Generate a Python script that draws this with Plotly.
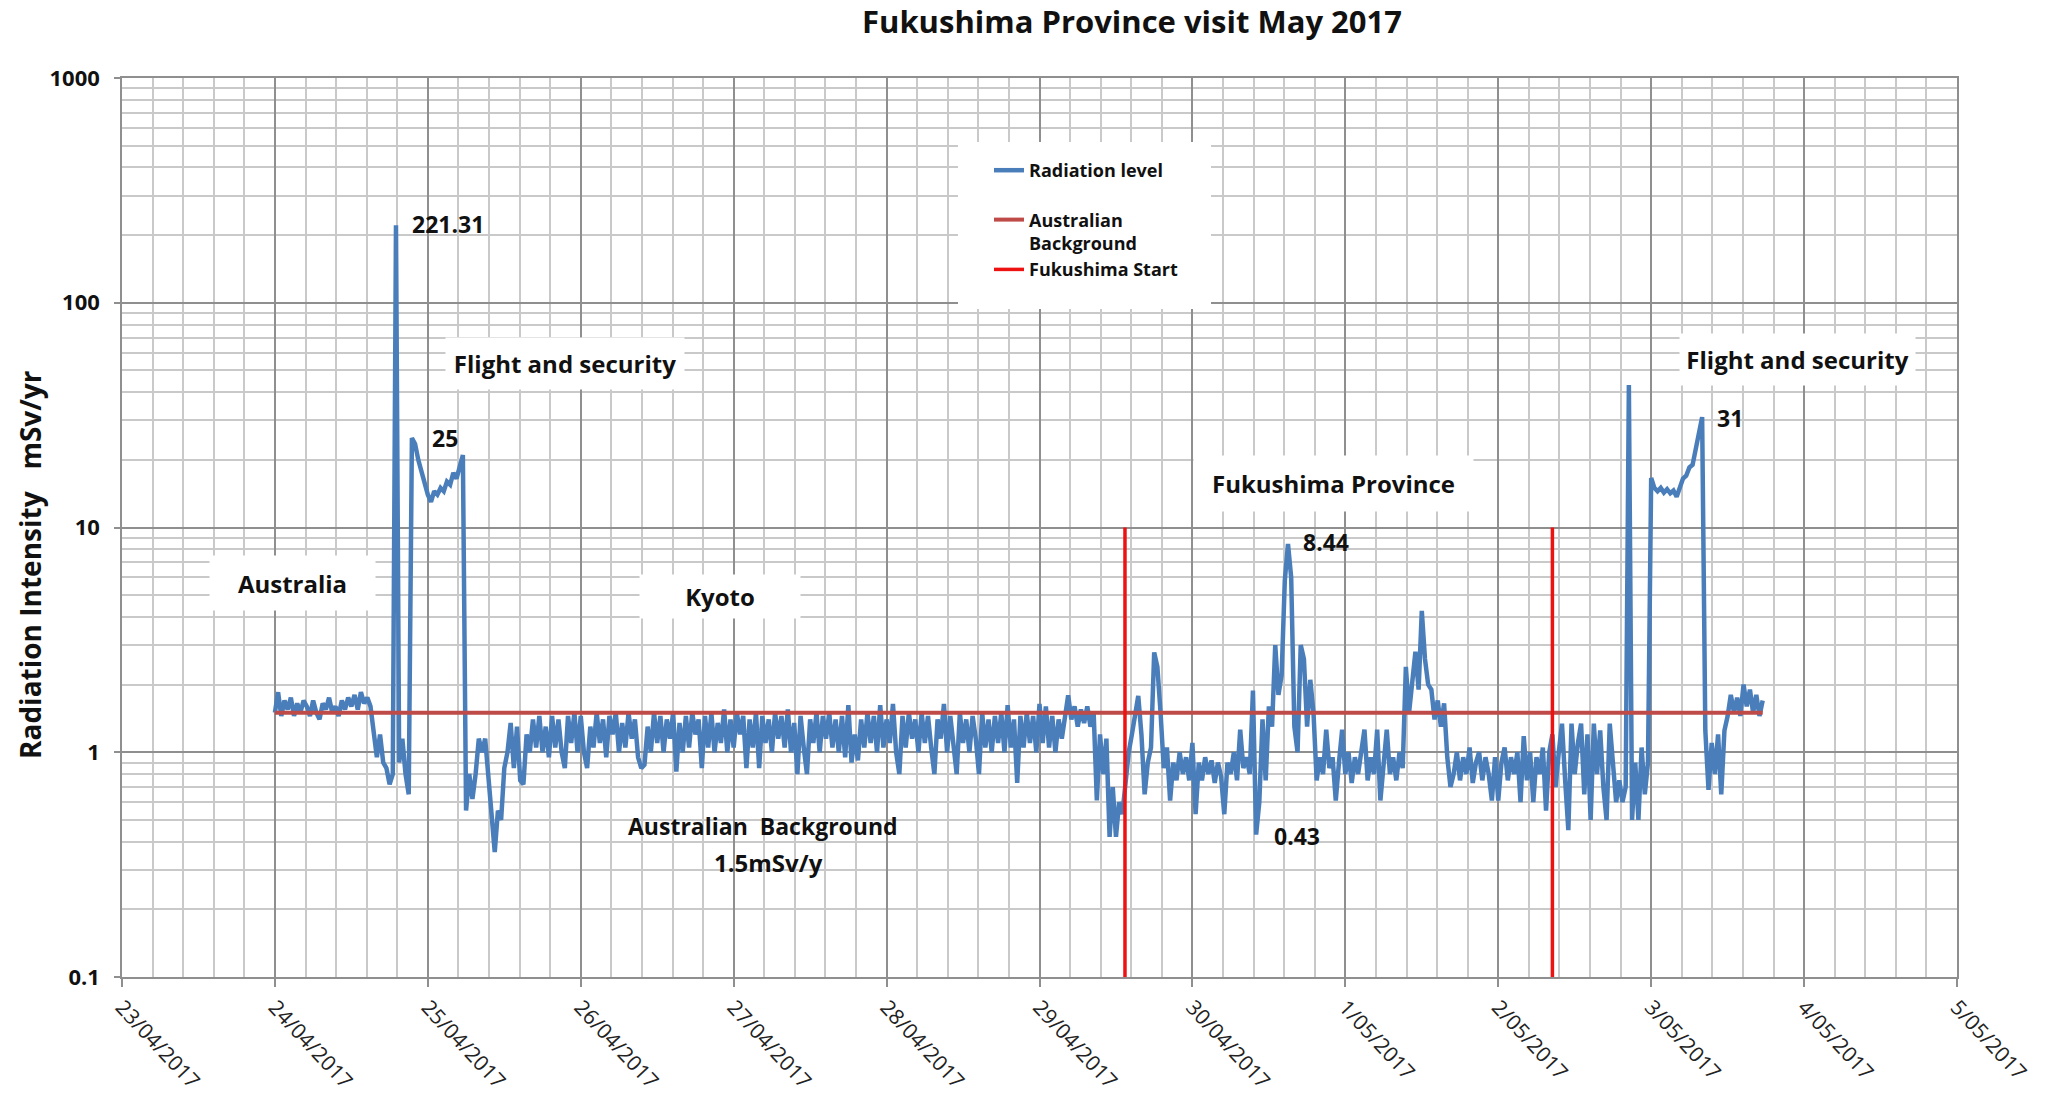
import math
import pandas as pd
import plotly.graph_objects as go

# ---------------------------------------------------------------------------
# Data: dose-rate readings (mSv/yr), one value every 30 minutes from 24/04 00:00
# ---------------------------------------------------------------------------
START = "2017-04-24 00:00"
STEP = "30min"

day_24apr = [
    1.5, 1.85, 1.45, 1.7, 1.55, 1.75, 1.45, 1.65, 1.5, 1.7, 1.6, 1.45,
    1.7, 1.5, 1.4, 1.65, 1.55, 1.75, 1.5, 1.6, 1.45, 1.7, 1.55, 1.75,
    1.6, 1.8, 1.55, 1.85, 1.65, 1.75, 1.6, 1.25, 0.95, 1.2, 0.9, 0.85,
    0.72, 0.8, 221.31, 0.9, 1.15, 0.8, 0.65, 25.0, 23.5, 20.0, 17.5, 15.5,
]
day_25apr = [
    14.0, 13.0, 14.5, 14.0, 15.0, 14.5, 16.0, 15.5, 17.5, 16.5, 19.0, 21.0,
    0.55, 0.8, 0.62, 0.8, 1.15, 1.0, 1.15, 0.75, 0.5, 0.36, 0.55, 0.5,
    0.85, 1.0, 1.35, 0.85, 1.3, 0.75, 0.72, 1.2, 1.0, 1.4, 1.05, 1.45,
    1.0, 1.3, 0.95, 1.45, 1.05, 1.4, 1.0, 0.85, 1.45, 1.1, 1.5, 1.0,
]
day_26apr = [
    1.45, 1.0, 0.85, 1.3, 1.05, 1.5, 1.1, 1.4, 0.95, 1.45, 1.2, 1.5,
    1.0, 1.35, 1.05, 1.5, 1.15, 1.4, 0.95, 0.85, 0.88, 1.3, 1.0, 1.5,
    1.1, 1.45, 1.0, 1.4, 1.15, 1.5, 0.82, 1.35, 1.0, 1.45, 1.05, 1.5,
    1.2, 1.4, 0.85, 1.45, 1.05, 1.5, 1.0, 1.35, 1.1, 1.55, 1.0, 1.4,
]
day_27apr = [
    1.05, 1.5, 1.2, 1.45, 0.85, 1.4, 1.05, 1.5, 0.85, 1.45, 1.1, 1.4,
    1.0, 1.5, 1.15, 1.45, 1.05, 1.55, 1.0, 1.35, 0.8, 1.45, 1.05, 0.8,
    1.4, 1.1, 1.5, 1.0, 1.45, 1.15, 1.5, 1.05, 1.4, 1.0, 1.45, 0.95,
    1.62, 0.9, 1.2, 0.92, 1.4, 1.05, 1.5, 1.1, 1.45, 1.0, 1.62, 1.05,
]
day_28apr = [
    1.4, 1.1, 1.64, 1.0, 0.8, 1.45, 1.05, 1.5, 1.15, 1.4, 1.0, 1.5,
    1.1, 1.45, 1.05, 0.8, 1.4, 1.15, 1.64, 1.0, 1.45, 1.05, 0.8, 1.5,
    1.1, 1.4, 1.0, 1.45, 1.15, 0.8, 1.5, 1.05, 1.4, 1.0, 1.45, 1.1,
    1.5, 1.0, 1.62, 1.05, 1.4, 0.73, 1.45, 1.05, 1.5, 1.1, 1.45, 1.0,
]
day_29apr = [
    1.64, 1.1, 1.6, 1.05, 1.45, 1.0, 1.4, 1.15, 1.5, 1.79, 1.4, 1.6,
    1.3, 1.55, 1.35, 1.6, 1.3, 1.5, 0.61, 1.2, 0.8, 1.15, 0.42, 0.7,
    0.42, 0.6, 0.53, 0.75, 1.0, 1.2, 1.5, 1.78, 1.2, 0.65, 0.9, 1.05,
    2.78, 2.4, 1.5, 0.85, 1.05, 0.61, 0.9, 0.75, 1.0, 0.8, 0.95, 0.75,
]
day_30apr = [
    1.1, 0.53, 0.9, 0.75, 0.95, 0.8, 0.92, 0.73, 0.9, 0.78, 0.53, 0.9,
    0.8, 1.0, 0.75, 1.26, 0.85, 0.95, 0.8, 1.88, 0.43, 0.6, 1.4, 0.75,
    1.6, 1.3, 3.0, 1.8, 2.2, 5.8, 8.44, 6.0, 1.3, 1.0, 3.0, 2.6,
    1.3, 2.1, 1.5, 0.75, 0.95, 0.8, 1.26, 0.85, 0.95, 0.61, 0.9, 1.26,
]
day_1may = [
    0.8, 1.0, 0.73, 0.95, 0.8, 1.0, 1.26, 0.75, 0.95, 0.8, 1.26, 0.61,
    0.9, 1.26, 0.8, 0.95, 0.75, 1.0, 0.85, 2.4, 1.5, 2.1, 2.8, 1.9,
    4.26, 2.6, 2.0, 1.9, 1.4, 1.7, 1.3, 1.65, 0.95, 0.7, 0.8, 1.0,
    0.75, 0.95, 0.8, 1.05, 0.73, 0.9, 1.0, 0.75, 0.95, 0.8, 0.61, 0.95,
]
day_2may = [
    0.61, 0.9, 1.05, 0.75, 0.95, 0.8, 1.0, 0.6, 1.18, 0.75, 1.0, 0.6,
    0.95, 0.8, 1.05, 0.55, 1.0, 1.2, 0.7, 1.0, 1.34, 0.75, 0.45, 1.34,
    0.8, 1.1, 1.34, 0.65, 1.2, 0.5, 1.34, 0.8, 1.25, 0.7, 0.5, 1.34,
    0.85, 0.6, 0.75, 0.6, 0.7, 43.0, 0.5, 0.9, 0.5, 1.05, 0.65, 0.9,
]
day_3may = [
    16.6, 15.0, 14.5, 15.0, 14.3, 14.8, 14.2, 14.6, 13.7, 15.0, 16.5, 17.0,
    18.5, 19.0, 22.6, 27.0, 31.0, 1.25, 0.68, 1.1, 0.8, 1.2, 0.65, 1.25,
    1.45, 1.8, 1.5, 1.75, 1.45, 2.0, 1.6, 1.9, 1.5, 1.8, 1.45, 1.7,
]

radiation = (day_24apr + day_25apr + day_26apr + day_27apr + day_28apr
             + day_29apr + day_30apr + day_1may + day_2may + day_3may)
times = pd.date_range(START, periods=len(radiation), freq=STEP)

# Reference level and the two "Fukushima Start" markers
BACKGROUND = 1.5
fukushima_start = [pd.Timestamp("2017-04-29 13:25"), pd.Timestamp("2017-05-02 08:30")]
start_line_span = [0.1, 10]

# Readings that carry a text callout next to them
callout_values = [221.31, 25.0, 8.44, 0.43, 31.0]

# Axis ticks
day_ticks = pd.date_range("2017-04-23", "2017-05-05", freq="D")
day_labels = ["23/04/2017", "24/04/2017", "25/04/2017", "26/04/2017", "27/04/2017",
              "28/04/2017", "29/04/2017", "30/04/2017", "1/05/2017", "2/05/2017",
              "3/05/2017", "4/05/2017", "5/05/2017"]
y_ticks = [0.1, 1, 10, 100, 1000]
y_labels = ["0.1", "1", "10", "100", "1000"]

# ---------------------------------------------------------------------------
# Layout constants (pixels)
# ---------------------------------------------------------------------------
W, H = 2064, 1101
PLOT_L, PLOT_T, PLOT_W, PLOT_H = 122, 78, 1835, 899
FONT = "Open Sans"
TEXT = "#111111"
MAJOR_GRID = "#8f8f8f"
MINOR_GRID = "#c9c9c9"
BLUE = "#4A7EBB"
BROWN = "#BE4B48"
RED = "#EE1111"


def paper_x(px):
    return (px - PLOT_L) / PLOT_W


def paper_y(py):
    return (PLOT_T + PLOT_H - py) / PLOT_H


fig = go.Figure()

fig.add_trace(go.Scatter(
    x=times, y=radiation, mode="lines", name="Radiation level",
    line=dict(color=BLUE, width=4.5), legendgroup="level",
))
fig.add_trace(go.Scatter(
    x=[times[0], times[-1]], y=[BACKGROUND, BACKGROUND], mode="lines",
    name="Australian<br>Background", line=dict(color=BROWN, width=4),
    legendgroup="refs",
))
start_x, start_y = [], []
for t in fukushima_start:
    start_x += [t, t, None]
    start_y += [start_line_span[0], start_line_span[1], None]
fig.add_trace(go.Scatter(
    x=start_x, y=start_y, mode="lines", name="Fukushima Start",
    line=dict(color=RED, width=3.5), legendgroup="refs", connectgaps=False,
))

annotations = []

# Callouts beside the notable readings (anchored at the reading itself)
callout_shift = {221.31: (14, 1), 25.0: (18, 0), 8.44: (13, 2), 0.43: (16, -1), 31.0: (13, -1)}
for v in callout_values:
    i = radiation.index(v)
    dx, dy = callout_shift[v]
    annotations.append(dict(
        x=times[i], y=math.log10(v), xref="x", yref="y",
        text=f"{v:g}", showarrow=False, xanchor="left", yanchor="middle",
        xshift=dx, yshift=dy,
        font=dict(family=FONT, size=23, color=TEXT, weight="bold"),
    ))

# Boxed location labels: (text, centre x px, centre y px, box width, box height)
region_labels = [
    ("Australia", 292, 583, 165, 54),
    ("Kyoto", 720, 596, 160, 43),
    ("Flight and security", 565, 363, 238, 51),
    ("Flight and security", 1797, 359, 235, 51),
    ("Fukushima Province", 1333, 483, 279, 55),
]
for text, cx, cy, bw, bh in region_labels:
    annotations.append(dict(
        x=paper_x(cx), y=paper_y(cy), xref="paper", yref="paper",
        text=text, showarrow=False, xanchor="center", yanchor="middle",
        width=bw, height=bh, bgcolor="white", borderpad=0,
        font=dict(family=FONT, size=24, color=TEXT, weight="bold"),
    ))

# Background note under the Kyoto readings
annotations.append(dict(
    x=paper_x(763), y=paper_y(826), xref="paper", yref="paper",
    text="Australian\u00a0\u00a0Background", showarrow=False,
    xanchor="center", yanchor="middle",
    font=dict(family=FONT, size=23, color=TEXT, weight="bold"),
))
annotations.append(dict(
    x=paper_x(768), y=paper_y(862), xref="paper", yref="paper",
    text="1.5mSv/y", showarrow=False, xanchor="center", yanchor="middle",
    font=dict(family=FONT, size=24, color=TEXT, weight="bold"),
))

# Vertical axis title
annotations.append(dict(
    x=paper_x(30), y=paper_y(565), xref="paper", yref="paper",
    text="Radiation Intensity\u00a0\u00a0\u00a0mSv/yr", textangle=-90, showarrow=False,
    xanchor="center", yanchor="middle",
    font=dict(family=FONT, size=28, color=TEXT, weight="bold"),
))

# White panel behind the legend
legend_panel = dict(
    type="rect", xref="paper", yref="paper",
    x0=paper_x(958), x1=paper_x(1211), y0=paper_y(309), y1=paper_y(142),
    fillcolor="white", line=dict(width=0), layer="above",
)

fig.update_layout(
    width=W, height=H,
    margin=dict(l=PLOT_L, r=W - PLOT_L - PLOT_W, t=PLOT_T, b=H - PLOT_T - PLOT_H,
                autoexpand=False),
    paper_bgcolor="white", plot_bgcolor="white",
    title=dict(
        text="Fukushima Province visit May 2017", x=1132 / W, xanchor="center",
        y=1 - 22 / H, yanchor="middle", xref="container", yref="container",
        font=dict(family=FONT, size=31, color=TEXT, weight="bold"),
    ),
    legend=dict(
        x=paper_x(989), y=paper_y(152), xanchor="left", yanchor="top",
        bgcolor="white", borderwidth=0, traceorder="grouped", tracegroupgap=23,
        valign="top", font=dict(family=FONT, size=18, color=TEXT, weight="bold"),
    ),
    annotations=annotations,
    shapes=[legend_panel],
    showlegend=True,
)

fig.update_xaxes(
    type="date", range=[day_ticks[0], day_ticks[-1]], automargin=False,
    tickmode="array", tickvals=day_ticks, ticktext=day_labels, tickangle=47,
    tickfont=dict(family=FONT, size=21, color="#222222"),
    showgrid=True, gridcolor=MAJOR_GRID, gridwidth=1.5,
    minor=dict(dtick=0.2 * 86400000, showgrid=True, gridcolor=MINOR_GRID, gridwidth=1.5),
    ticks="outside", ticklen=8, tickwidth=1.5, tickcolor=MAJOR_GRID,
    showline=True, linecolor=MAJOR_GRID, linewidth=1.5, mirror=True,
    zeroline=False,
)
fig.update_yaxes(
    type="log", range=[-1, 3], automargin=False,
    tickmode="array", tickvals=y_ticks, ticktext=y_labels,
    tickfont=dict(family=FONT, size=22, color=TEXT, weight="bold"),
    showgrid=True, gridcolor=MAJOR_GRID, gridwidth=1.5,
    minor=dict(dtick="D1", showgrid=True, gridcolor=MINOR_GRID, gridwidth=1.5),
    ticks="outside", ticklen=6, tickwidth=1.5, tickcolor=MAJOR_GRID,
    ticklabelstandoff=10,
    showline=True, linecolor=MAJOR_GRID, linewidth=1.5, mirror=True,
    zeroline=False,
)

fig.write_html("out.html")
